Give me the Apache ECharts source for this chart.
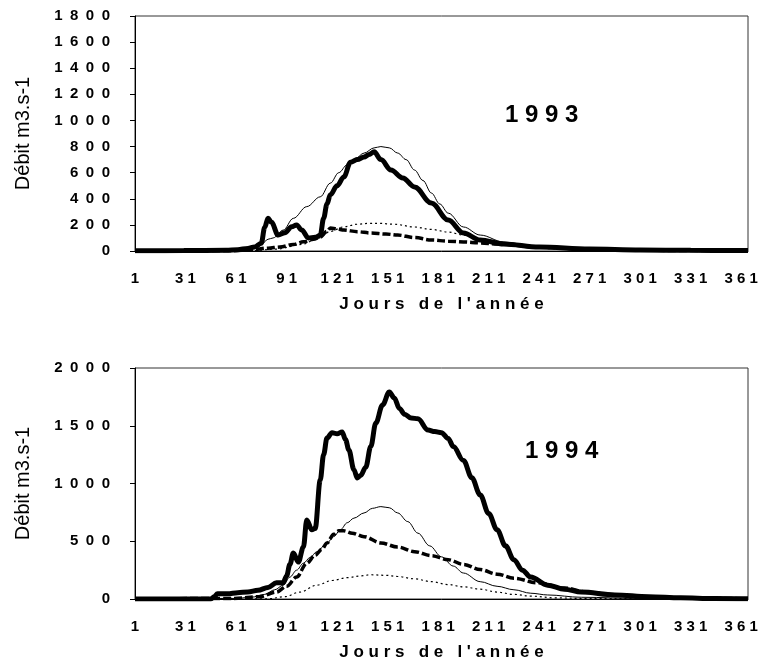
<!DOCTYPE html>
<html>
<head>
<meta charset="utf-8">
<script src="https://cdn.jsdelivr.net/npm/echarts@6/dist/echarts.min.js"></script>
<style>
html,body{margin:0;padding:0;background:#fff;}
#c{width:761px;height:665px;}
</style>
</head>
<body>
<div id="c"></div>
<script>
// ---- 1993 ----
const days93Thick = [1, 30, 55, 62, 68, 72, 76, 78, 80, 82, 86, 90, 94, 97, 100, 104, 108, 111, 113, 115, 117, 121, 125, 129, 133, 137, 140, 143, 147, 153, 160, 167, 177, 187, 196, 206, 220, 241, 271, 301, 331, 365];
const vals93Thick = [2, 3, 5, 10, 20, 30, 60, 180, 250, 220, 122, 140, 185, 200, 160, 100, 105, 120, 250, 360, 430, 500, 567, 680, 700, 720, 740, 760, 700, 620, 560, 490, 367, 237, 138, 84, 54, 30, 15, 8, 5, 3];

const days93Thin = [1, 60, 70, 76, 80, 83, 89, 95, 103, 111, 117, 122, 127, 132, 137, 143, 147, 152, 157, 162, 167, 172, 177, 182, 187, 196, 206, 220, 241, 271, 301, 365];
const vals93Thin = [0, 2, 15, 50, 90, 100, 160, 250, 340, 415, 520, 600, 660, 710, 750, 790, 800, 790, 750, 700, 620, 540, 444, 360, 290, 184, 122, 69, 30, 10, 4, 1];

const days93Dash = [1, 60, 70, 80, 87, 95, 101, 107, 111, 115, 117, 121, 125, 133, 141, 150, 157, 167, 177, 187, 196, 206, 216, 241, 271, 301, 365];
const vals93Dash = [0, 2, 10, 22, 30, 50, 70, 90, 107, 150, 176, 170, 160, 148, 138, 130, 122, 103, 84, 75, 69, 62, 54, 30, 12, 5, 2];

const days93Dot = [1, 70, 85, 100, 110, 117, 125, 133, 140, 146, 155, 167, 177, 187, 196, 206, 220, 241, 271, 365];
const vals93Dot = [0, 2, 15, 50, 100, 150, 185, 205, 212, 212, 205, 184, 165, 145, 122, 84, 50, 20, 5, 0];

// ---- 1994 ----
const days94Thick = [1, 46, 48, 50, 56, 62, 68, 74, 80, 85, 89, 91, 93, 95, 98, 101, 103, 106, 108, 111, 113, 115, 118, 121, 124, 126, 128, 131, 133, 135, 138, 141, 144, 148, 152, 155, 158, 161, 165, 169, 175, 179, 183, 187, 190, 196, 201, 206, 211, 216, 221, 226, 231, 236, 246, 256, 266, 286, 306, 325, 345, 365];
const vals94Thick = [0, 0, 20, 45, 45, 55, 60, 75, 100, 140, 140, 200, 300, 398, 320, 450, 684, 600, 610, 1030, 1250, 1394, 1440, 1430, 1446, 1380, 1290, 1120, 1048, 1070, 1140, 1320, 1524, 1680, 1792, 1740, 1650, 1600, 1567, 1560, 1463, 1450, 1440, 1390, 1320, 1200, 1050, 900, 740, 600, 460, 340, 250, 190, 120, 85, 60, 35, 20, 10, 5, 2];

const days94Thin = [1, 60, 70, 78, 84, 89, 93, 97, 101, 105, 109, 115, 119, 123, 127, 131, 137, 142, 147, 152, 157, 163, 169, 176, 183, 190, 196, 206, 216, 226, 236, 246, 266, 301, 365];
const vals94Thin = [0, 5, 15, 40, 80, 120, 190, 250, 310, 360, 410, 485, 540, 600, 660, 700, 745, 785, 800, 790, 745, 670, 570, 460, 365, 285, 225, 150, 110, 80, 50, 35, 15, 5, 0];

const days94Dash = [1, 60, 75, 85, 91, 97, 103, 108, 112, 115, 119, 122, 125, 130, 137, 147, 157, 167, 177, 187, 196, 206, 216, 226, 240, 256, 271, 286, 301, 331, 365];
const vals94Dash = [0, 5, 20, 60, 110, 190, 310, 380, 430, 485, 560, 590, 590, 570, 540, 485, 450, 410, 375, 340, 300, 255, 215, 180, 140, 95, 55, 35, 20, 8, 2];

const days94Dot = [1, 80, 90, 99, 109, 118, 127, 135, 141, 150, 157, 167, 177, 187, 196, 206, 216, 226, 236, 250, 271, 365];
const vals94Dot = [0, 2, 20, 60, 120, 160, 185, 200, 210, 205, 195, 175, 150, 125, 105, 85, 60, 40, 25, 10, 3, 0];

// axis labels / texts
const xTickStep = 30;
const yMax93 = 1800, yStep93 = 200;
const yMax94 = 2000, yStep94 = 500;
const yTitle = 'Débit m3.s-1';
const xTitle = "Jours de l'année";
const year1 = '1993', year2 = '1994';

const FONT = "'Liberation Sans', Arial, sans-serif";
const spaced = (s, sep) => String(s).split('').join(sep);
const xTitleText = xTitle.split(' ').map(w => spaced(w, ' ')).join('   ');

function pairs(days, vals) { return days.map((d, i) => [d - 1, vals[i]]); }

function xAxis(gridIndex) {
  return {
    type: 'value', gridIndex, min: 0, max: 364, interval: xTickStep,
    axisLine: { show: true, onZero: false, lineStyle: { color: '#000', width: 1 } },
    axisTick: { show: false },
    splitLine: { show: false },
    axisLabel: {
      margin: 20, color: '#000', fontFamily: FONT, fontWeight: 'bold', fontSize: 15,
      formatter: v => (v % xTickStep === 0 ? spaced(v + 1, ' ') : '')
    },
    name: xTitleText, nameLocation: 'middle', nameGap: 45,
    nameTextStyle: { color: '#000', fontFamily: FONT, fontWeight: 'bold', fontSize: 17 }
  };
}
function yAxis(gridIndex, max, step) {
  return {
    type: 'value', gridIndex, min: 0, max, interval: step,
    axisLine: { show: true, lineStyle: { color: '#000', width: 1 } },
    axisTick: { show: true, length: 5, lineStyle: { color: '#000' } },
    splitLine: { show: false },
    axisLabel: {
      margin: 25, color: '#000', fontFamily: FONT, fontWeight: 'bold', fontSize: 15,
      formatter: v => spaced(v, '\u2002')
    },
    name: yTitle, nameLocation: 'middle', nameGap: 102, nameRotate: 90,
    nameTextStyle: { color: '#000', fontFamily: FONT, fontSize: 20 }
  };
}
function lines(idx, thick, thin, dash, dot) {
  const base = { type: 'line', xAxisIndex: idx, yAxisIndex: idx, showSymbol: false, symbol: 'none', smooth: 0.35, smoothMonotone: 'x', silent: true, animation: false };
  return [
    Object.assign({}, base, { data: dot, lineStyle: { color: '#000', width: 1.2, type: [2, 3] } }),
    Object.assign({}, base, { data: dash, lineStyle: { color: '#000', width: 3.5, type: [8, 3] } }),
    Object.assign({}, base, { data: thin, lineStyle: { color: '#000', width: 1 } }),
    Object.assign({}, base, { data: thick, lineStyle: { color: '#000', width: 5 } })
  ];
}

const chart = echarts.init(document.getElementById('c'), null, { renderer: 'canvas' });
chart.setOption({
  backgroundColor: '#fff',
  animation: false,
  grid: [
    { left: 135, top: 16, width: 613, height: 235, show: true, borderColor: '#333', borderWidth: 1, backgroundColor: 'transparent' },
    { left: 135, top: 368, width: 613, height: 231, show: true, borderColor: '#333', borderWidth: 1, backgroundColor: 'transparent' }
  ],
  xAxis: [xAxis(0), xAxis(1)],
  yAxis: [yAxis(0, yMax93, yStep93), yAxis(1, yMax94, yStep94)],
  graphic: [
    { type: 'text', left: 505, top: 103, style: { text: spaced(year1, ' '), font: 'bold 24px ' + FONT, fill: '#000' } },
    { type: 'text', left: 525, top: 439, style: { text: spaced(year2, ' '), font: 'bold 24px ' + FONT, fill: '#000' } }
  ],
  series: [
    ...lines(0, pairs(days93Thick, vals93Thick), pairs(days93Thin, vals93Thin), pairs(days93Dash, vals93Dash), pairs(days93Dot, vals93Dot)),
    ...lines(1, pairs(days94Thick, vals94Thick), pairs(days94Thin, vals94Thin), pairs(days94Dash, vals94Dash), pairs(days94Dot, vals94Dot))
  ]
});
</script>
</body>
</html>
